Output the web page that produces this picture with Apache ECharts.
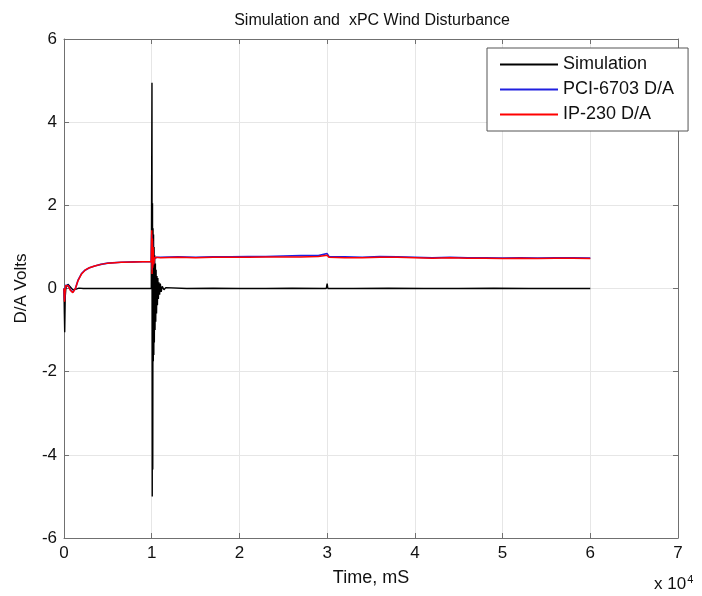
<!DOCTYPE html>
<html>
<head>
<meta charset="utf-8">
<script src="https://cdn.jsdelivr.net/npm/echarts@6/dist/echarts.min.js"></script>
<style>
html,body{margin:0;padding:0;background:#fff;}
#chart{width:702px;height:596px;}
</style>
</head>
<body>
<div id="chart"></div>
<script>
// x ticks (ms) and y ticks (volts)
var xTicks=[0,10000,20000,30000,40000,50000,60000,70000];
var yTicks=[-6,-4,-2,0,2,4,6];

// Simulation (black)
var simT=[0,40,80,140,220,320,450,600,800,1000,1300,1700,2200,4000,7000,9950,
    10000,10030,10060,10090,10120,10150,10180,10210,10240,10270,10300,10340,10380,10420,10460,10500,
    10550,10600,10650,10700,10760,10820,10900,10980,11080,11200,11400,11600,11800,
    14000,17000,20000,23000,26000,29900,30000,30080,30200,33000,37000,41000,45000,49000,53000,57000,60000];
var simV=[0,-0.6,-1.05,-0.2,0.02,0.06,0.1,0.07,0.02,-0.03,-0.02,0.01,0,0,0,0,
    0,4.95,-5.0,2.05,-4.35,1.45,-1.75,1.3,-1.6,1.0,-1.3,0.8,-1.0,0.6,-0.8,0.45,
    -0.6,0.3,-0.4,0.25,-0.25,0.15,-0.15,0.12,-0.08,0.05,-0.03,0.02,0,
    0,0.005,0,0,0.005,0,0.12,0,0,0,0.005,0,0,0.005,0,0,0];

// PCI-6703 D/A (blue)
var pciT=[0,60,120,200,320,500,750,1000,1300,1600,2000,2400,2900,3500,4200,5000,6500,8000,9950,
    10000,10040,10080,10120,10160,10220,10300,10400,10600,11000,
    13000,15000,17000,19000,21000,23000,25000,27000,29000,30000,30200,32000,34000,36000,38000,40000,
    42000,44000,46000,48000,50000,52000,54000,56000,58000,60000];
var pciV=[0,-0.28,-0.05,0.08,0.1,0.07,-0.04,-0.09,0,0.2,0.36,0.44,0.5,0.54,0.58,0.61,0.63,0.64,0.65,
    1.3,0.45,1.15,0.55,0.95,0.6,0.72,0.76,0.75,0.75,
    0.76,0.75,0.76,0.76,0.77,0.77,0.78,0.79,0.79,0.84,0.77,0.76,0.75,0.77,0.76,0.75,
    0.74,0.75,0.74,0.74,0.73,0.74,0.73,0.74,0.74,0.73];

// IP-230 D/A (red)
var ipT=[0,60,120,200,320,500,750,1000,1300,1600,2000,2400,2900,3500,4200,5000,6500,8000,9950,
    10000,10040,10080,10120,10160,10220,10300,10400,10600,11000,
    13000,15000,17000,19000,21000,23000,25000,27000,29000,30000,30200,32000,34000,36000,38000,40000,
    42000,44000,46000,48000,50000,52000,54000,56000,58000,60000];
var ipV=[0,-0.32,-0.08,0.07,0.1,0.06,-0.05,-0.1,0,0.19,0.35,0.44,0.5,0.54,0.58,0.61,0.63,0.64,0.65,
    1.4,0.35,1.2,0.5,1.0,0.58,0.7,0.75,0.74,0.74,
    0.75,0.74,0.75,0.75,0.75,0.76,0.76,0.76,0.77,0.8,0.75,0.74,0.74,0.75,0.75,0.74,
    0.73,0.74,0.73,0.73,0.72,0.73,0.72,0.73,0.73,0.72];

function pairs(t,v){
    var out=[];
    for(var i=0;i<t.length;i++){ out.push([t[i],v[i]]); }
    return out;
}

var font='"Liberation Sans", Arial, sans-serif';
var axisGray='#707070';
var myChart=echarts.init(document.getElementById("chart"));
var option={
    animation:false,
    backgroundColor:'#fff',
    title:{
        text:'Simulation and  xPC Wind Disturbance',
        left:367, top:8, textAlign:'center',
        textStyle:{fontFamily:font,fontSize:16,fontWeight:'normal',color:'#111'}
    },
    legend:{
        orient:'vertical',
        left:487, top:48,
        padding:[7,14,7,13],
        itemGap:6,
        itemWidth:58, itemHeight:2,
        icon:'rect',
        backgroundColor:'#fff',
        borderColor:'#555', borderWidth:1, borderRadius:0,
        textStyle:{fontFamily:font,fontSize:18,color:'#111',lineHeight:19},
        data:['Simulation','PCI-6703 D/A','IP-230 D/A']
    },
    grid:{left:64,right:24,top:39,bottom:58},
    xAxis:[{
        type:'value', min:xTicks[0], max:xTicks[xTicks.length-1], interval:10000,
        name:'Time, mS', nameLocation:'middle', nameGap:31,
        nameTextStyle:{fontFamily:font,fontSize:18,color:'#111'},
        axisLine:{onZero:false,lineStyle:{color:axisGray}},
        axisTick:{inside:true,length:5,lineStyle:{color:axisGray}},
        axisLabel:{fontFamily:font,fontSize:17,color:'#111',margin:7,
            formatter:function(v){return v/10000;}},
        splitLine:{show:true,lineStyle:{color:'#e6e6e6',width:1}}
    },{
        type:'value', position:'top', min:xTicks[0], max:xTicks[xTicks.length-1], interval:10000,
        axisLine:{show:true,onZero:false,lineStyle:{color:axisGray}},
        axisTick:{show:true,inside:true,length:5,lineStyle:{color:axisGray}},
        axisLabel:{show:false}, splitLine:{show:false}
    }],
    yAxis:[{
        type:'value', min:yTicks[0], max:yTicks[yTicks.length-1], interval:2,
        name:'D/A Volts', nameLocation:'middle', nameGap:34, nameRotate:90,
        nameTextStyle:{fontFamily:font,fontSize:17,color:'#111'},
        axisLine:{show:true,onZero:false,lineStyle:{color:axisGray}},
        axisTick:{show:true,inside:true,length:5,lineStyle:{color:axisGray}},
        axisLabel:{fontFamily:font,fontSize:17,color:'#111',margin:7},
        splitLine:{show:true,lineStyle:{color:'#e6e6e6',width:1}}
    },{
        type:'value', position:'right', min:yTicks[0], max:yTicks[yTicks.length-1], interval:2,
        axisLine:{show:true,onZero:false,lineStyle:{color:axisGray}},
        axisTick:{show:true,inside:true,length:5,lineStyle:{color:axisGray}},
        axisLabel:{show:false}, splitLine:{show:false}
    }],
    graphic:[{
        type:'text', left:654, top:574,
        style:{
            text:'x 10{s|4}',
            font:'17px '+font, fill:'#111',
            rich:{s:{fontSize:11,verticalAlign:'top',padding:[0,0,10,1],fontFamily:font}}
        }
    }],
    series:[
        {name:'Simulation',type:'line',showSymbol:false,color:'#000',xAxisIndex:0,yAxisIndex:0,
            lineStyle:{width:1.4,color:'#000'},data:pairs(simT,simV)},
        {name:'PCI-6703 D/A',type:'line',showSymbol:false,color:'#2020e0',xAxisIndex:0,yAxisIndex:0,
            lineStyle:{width:1.6,color:'#2020e0'},data:pairs(pciT,pciV)},
        {name:'IP-230 D/A',type:'line',showSymbol:false,color:'#ff0000',xAxisIndex:0,yAxisIndex:0,
            lineStyle:{width:1.5,color:'#ff0000'},data:pairs(ipT,ipV)}
    ]
};
myChart.setOption(option);
window.onresize=myChart.resize;
</script>
</body>
</html>
